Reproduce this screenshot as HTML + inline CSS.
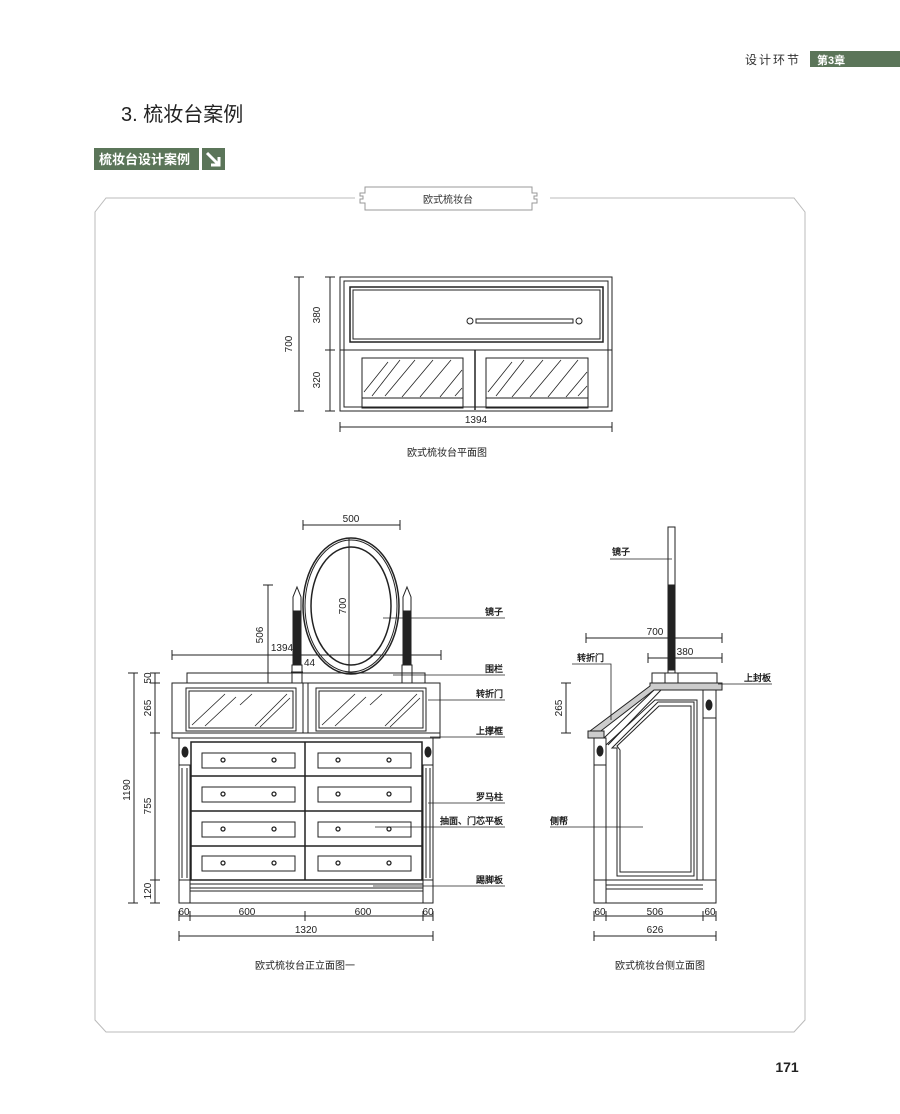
<!DOCTYPE html>
<html><head><meta charset="utf-8"><style>
body{margin:0;background:#fff;}
svg{display:block;font-family:"Liberation Sans","Noto Sans CJK SC",sans-serif;}
</style></head><body>
<svg width="900" height="1114" viewBox="0 0 900 1114" xmlns="http://www.w3.org/2000/svg">
<text x="745" y="64" font-size="12" fill="#333" letter-spacing="2">设计环节</text>
<rect x="810" y="51" width="90" height="16" fill="#5b7559"/>
<text x="817" y="64" font-size="11" fill="#fff" font-weight="bold">第3章</text>
<text x="121" y="121" font-size="20" fill="#222">3. 梳妆台案例</text>
<rect x="94" y="148" width="105" height="22" fill="#5b7559"/>
<text x="99" y="164" font-size="13" fill="#fff" font-weight="bold">梳妆台设计案例</text>
<rect x="202" y="148" width="23" height="22" fill="#5b7559"/>
<path d="M207 153 L219 165 M219 157 L219 165 L211 165" stroke="#fff" stroke-width="3" fill="none"/>
<path d="M355 198 H106 L95 212 V1020 L106 1032 H794 L805 1020 V212 L794 198 H550" stroke="#bbb" stroke-width="1" fill="none"/>
<path d="M365 187 H532 V193 H537 V196 H534 V199 H537 V203 H532 V210 H365 V203 H360 V199 H363 V196 H360 V193 H365 Z" stroke="#999" fill="#fff"/>
<text x="448" y="203" font-size="10" text-anchor="middle" fill="#333">欧式梳妆台</text>

<g stroke="#222" fill="none" stroke-width="1">
<rect x="340" y="277" width="272" height="134"/>
<rect x="344" y="281" width="264" height="126"/>
<rect x="350" y="287" width="253" height="55" stroke-width="1.5"/>
<rect x="353" y="290" width="247" height="49"/>
<line x1="340" y1="350" x2="612" y2="350"/>
<rect x="362" y="358" width="101" height="40"/><rect x="362" y="398" width="101" height="10"/>
<rect x="486" y="358" width="102" height="40"/><rect x="486" y="398" width="102" height="10"/>
<line x1="475" y1="350" x2="475" y2="410" stroke-width="1.5"/>
<g stroke-width="0.8">
<path d="M364 392 L388 362 M372 396 L400 360 M385 396 L415 360 M402 397 L433 360 M420 397 L451 360 M440 397 L462 370 M455 396 L462 388"/>
<path d="M488 392 L512 362 M496 396 L524 360 M512 397 L543 360 M530 397 L561 360 M548 397 L578 360 M566 397 L587 372 M578 396 L587 386"/>
</g>
<circle cx="470" cy="321" r="3"/><circle cx="579" cy="321" r="3"/>
<rect x="476" y="319" width="97" height="4"/>
<line x1="299" y1="277" x2="299" y2="411"/><line x1="330" y1="277" x2="330" y2="411"/>
<path d="M294 277 h10 M294 411 h10 M325 277 h10 M325 350 h10 M325 411 h10"/>
<line x1="340" y1="427" x2="612" y2="427"/><path d="M340 422 v10 M612 422 v10"/>

<rect x="187" y="673" width="238" height="10"/>
<rect x="172" y="683" width="268" height="50"/>
<rect x="186" y="688" width="110" height="43"/><rect x="189" y="691" width="104" height="37"/>
<rect x="316" y="688" width="110" height="43"/><rect x="319" y="691" width="104" height="37"/>
<line x1="303" y1="683" x2="303" y2="733"/><line x1="308" y1="683" x2="308" y2="733"/>
<g stroke-width="0.8"><path d="M192 725 L225 694 M205 726 L236 697 M240 705 L252 694 M255 726 L287 694 M260 727 L290 698"/>
<path d="M322 725 L355 694 M335 726 L366 697 M370 705 L382 694 M385 726 L417 694 M390 727 L420 698"/></g>
<rect x="172" y="733" width="268" height="5"/>
<rect x="179" y="738" width="254" height="165"/>
<rect x="179" y="765" width="11" height="115"/><rect x="423" y="765" width="10" height="115"/>
<path d="M182 768 v110 M187 768 v110 M426 768 v110 M430 768 v110"/>
<ellipse cx="185" cy="752" rx="3" ry="5" fill="#222"/><ellipse cx="428" cy="752" rx="3" ry="5" fill="#222"/>
<rect x="191" y="742" width="231" height="138" stroke-width="1.5"/>
<path d="M191 776 H422 M191 811 H422 M191 846 H422" stroke-width="1.5"/>
<line x1="305" y1="742" x2="305" y2="880" stroke-width="1.5"/>
<g>
<rect x="202" y="753" width="93" height="15"/><rect x="318" y="753" width="93" height="15"/>
<rect x="202" y="787" width="93" height="15"/><rect x="318" y="787" width="93" height="15"/>
<rect x="202" y="822" width="93" height="15"/><rect x="318" y="822" width="93" height="15"/>
<rect x="202" y="856" width="93" height="15"/><rect x="318" y="856" width="93" height="15"/>
</g>
<g stroke-width="1.3">
<circle cx="223" cy="760" r="2"/><circle cx="274" cy="760" r="2"/><circle cx="338" cy="760" r="2"/><circle cx="389" cy="760" r="2"/>
<circle cx="223" cy="794" r="2"/><circle cx="274" cy="794" r="2"/><circle cx="338" cy="794" r="2"/><circle cx="389" cy="794" r="2"/>
<circle cx="223" cy="829" r="2"/><circle cx="274" cy="829" r="2"/><circle cx="338" cy="829" r="2"/><circle cx="389" cy="829" r="2"/>
<circle cx="223" cy="863" r="2"/><circle cx="274" cy="863" r="2"/><circle cx="338" cy="863" r="2"/><circle cx="389" cy="863" r="2"/>
</g>
<path d="M190 884 H423 M190 888 H423 M190 891 H423"/>
<line x1="190" y1="880" x2="190" y2="903"/><line x1="423" y1="880" x2="423" y2="903"/>
<ellipse cx="351" cy="606" rx="48" ry="68" stroke-width="1.5"/>
<ellipse cx="351" cy="606" rx="46" ry="66"/>
<ellipse cx="351" cy="606" rx="40" ry="59" stroke-width="1.5"/>
<line x1="349" y1="538" x2="349" y2="674"/>
<path d="M297 587 L301 597 V611 H293 V597 Z"/>
<rect x="293" y="611" width="8" height="54" fill="#222"/>
<rect x="292" y="665" width="10" height="18"/>
<path d="M407 587 L411 597 V611 H403 V597 Z"/>
<rect x="403" y="611" width="8" height="54" fill="#222"/>
<rect x="402" y="665" width="10" height="18"/>
<line x1="303" y1="525" x2="400" y2="525"/><path d="M303 520 v10 M400 520 v10"/>
<line x1="268" y1="585" x2="268" y2="683"/><path d="M263 585 h10 M263 683 h10"/>
<line x1="172" y1="655" x2="441" y2="655"/><path d="M172 650 v10 M441 650 v10"/>
<path d="M291 672 H303"/>
<line x1="134" y1="673" x2="134" y2="903"/><path d="M128 673 h10 M128 903 h10"/>
<line x1="155" y1="673" x2="155" y2="903"/><path d="M150 673 h10 M150 683 h10 M150 733 h10 M150 880 h10 M150 903 h10"/>
<line x1="179" y1="916" x2="433" y2="916"/><path d="M179 911 v10 M190 911 v10 M305 911 v10 M423 911 v10 M433 911 v10"/>
<line x1="179" y1="936" x2="433" y2="936"/><path d="M179 931 v10 M433 931 v10"/>
<path d="M383 618 H505 M393 675 H505 M428 700 H505 M430 737 H505 M428 803 H505 M375 827 H505 M373 886 H505" stroke-width="0.8"/>

<rect x="668" y="527" width="7" height="146"/>
<rect x="669" y="585" width="5" height="85" fill="#222"/>
<rect x="665" y="673" width="13" height="10"/>
<rect x="652" y="673" width="65" height="10"/>
<rect x="650" y="683" width="72" height="7" fill="#ccc"/>
<path d="M650 686 L590 731 L593 737 L654 690" fill="#ccc"/>
<path d="M654 690 L604 738 M661 690 L608 745"/>
<rect x="588" y="731" width="16" height="7" fill="#ccc"/>
<rect x="594" y="738" width="12" height="142"/><rect x="594" y="765" width="12" height="115"/>
<ellipse cx="600" cy="751" rx="3" ry="5" fill="#222"/>
<rect x="703" y="690" width="13" height="190"/><rect x="703" y="718" width="13" height="162"/>
<ellipse cx="709" cy="705" rx="3" ry="5" fill="#222"/>
<path d="M606 745 L655 700 H697 V880"/>
<path d="M612 748 L658 702 H694 V876 H617 V748 Z"/>
<path d="M617 746 L659 706 H691 V872 H620 V750 Z"/>
<rect x="594" y="880" width="122" height="23"/>
<path d="M606 880 V903 M606 885 H703 M606 889 H703"/>
<line x1="586" y1="638" x2="722" y2="638"/><path d="M586 633 v10 M722 633 v10"/>
<line x1="648" y1="658" x2="722" y2="658"/><path d="M648 653 v10 M722 653 v10"/>
<line x1="566" y1="683" x2="566" y2="733"/><path d="M561 683 h10 M561 733 h10"/>
<line x1="594" y1="916" x2="716" y2="916"/><path d="M594 911 v10 M606 911 v10 M703 911 v10 M716 911 v10"/>
<line x1="594" y1="936" x2="716" y2="936"/><path d="M594 931 v10 M716 931 v10"/>
<path d="M610 559 H672 M718 684 H772 M572 664 H611 V720 M550 827 H643" stroke-width="0.8"/>
</g>
<g fill="#222" font-size="10" font-family="Liberation Sans Narrow, Liberation Sans, sans-serif">
<text x="320" y="315" transform="rotate(-90 320 315)" text-anchor="middle">380</text>
<text x="320" y="380" transform="rotate(-90 320 380)" text-anchor="middle">320</text>
<text x="292" y="344" transform="rotate(-90 292 344)" text-anchor="middle">700</text>
<text x="476" y="423" text-anchor="middle">1394</text>
<text x="447" y="456" text-anchor="middle">欧式梳妆台平面图</text>
<text x="351" y="522" text-anchor="middle">500</text>
<text x="346" y="606" transform="rotate(-90 346 606)" text-anchor="middle">700</text>
<text x="263" y="635" transform="rotate(-90 263 635)" text-anchor="middle">506</text>
<text x="282" y="651" text-anchor="middle">1394</text>
<text x="304" y="666">44</text>
<text x="130" y="790" transform="rotate(-90 130 790)" text-anchor="middle">1190</text>
<text x="151" y="678" transform="rotate(-90 151 678)" text-anchor="middle">50</text>
<text x="151" y="708" transform="rotate(-90 151 708)" text-anchor="middle">265</text>
<text x="151" y="806" transform="rotate(-90 151 806)" text-anchor="middle">755</text>
<text x="151" y="891" transform="rotate(-90 151 891)" text-anchor="middle">120</text>
<text x="184" y="915" text-anchor="middle">60</text>
<text x="247" y="915" text-anchor="middle">600</text>
<text x="363" y="915" text-anchor="middle">600</text>
<text x="428" y="915" text-anchor="middle">60</text>
<text x="306" y="933" text-anchor="middle">1320</text>
<text x="305" y="969" text-anchor="middle">欧式梳妆台正立面图一</text>
<g font-weight="bold" font-size="9" text-anchor="end">
<text x="503" y="615">镜子</text><text x="503" y="672">围栏</text><text x="503" y="697">转折门</text>
<text x="503" y="734">上撑框</text><text x="503" y="800">罗马柱</text><text x="503" y="824">抽面、门芯平板</text>
<text x="503" y="883">踢脚板</text>
<text x="630" y="555">镜子</text><text x="771" y="681">上封板</text><text x="604" y="661">转折门</text>
<text x="568" y="824">侧帮</text>
</g>
<text x="655" y="635" text-anchor="middle">700</text>
<text x="685" y="655" text-anchor="middle">380</text>
<text x="562" y="708" transform="rotate(-90 562 708)" text-anchor="middle">265</text>
<text x="600" y="915" text-anchor="middle">60</text>
<text x="655" y="915" text-anchor="middle">506</text>
<text x="710" y="915" text-anchor="middle">60</text>
<text x="655" y="933" text-anchor="middle">626</text>
<text x="660" y="969" text-anchor="middle">欧式梳妆台侧立面图</text>
</g>
<text x="787" y="1072" font-size="14" font-weight="bold" fill="#222" text-anchor="middle">171</text>
</svg>
</body></html>
